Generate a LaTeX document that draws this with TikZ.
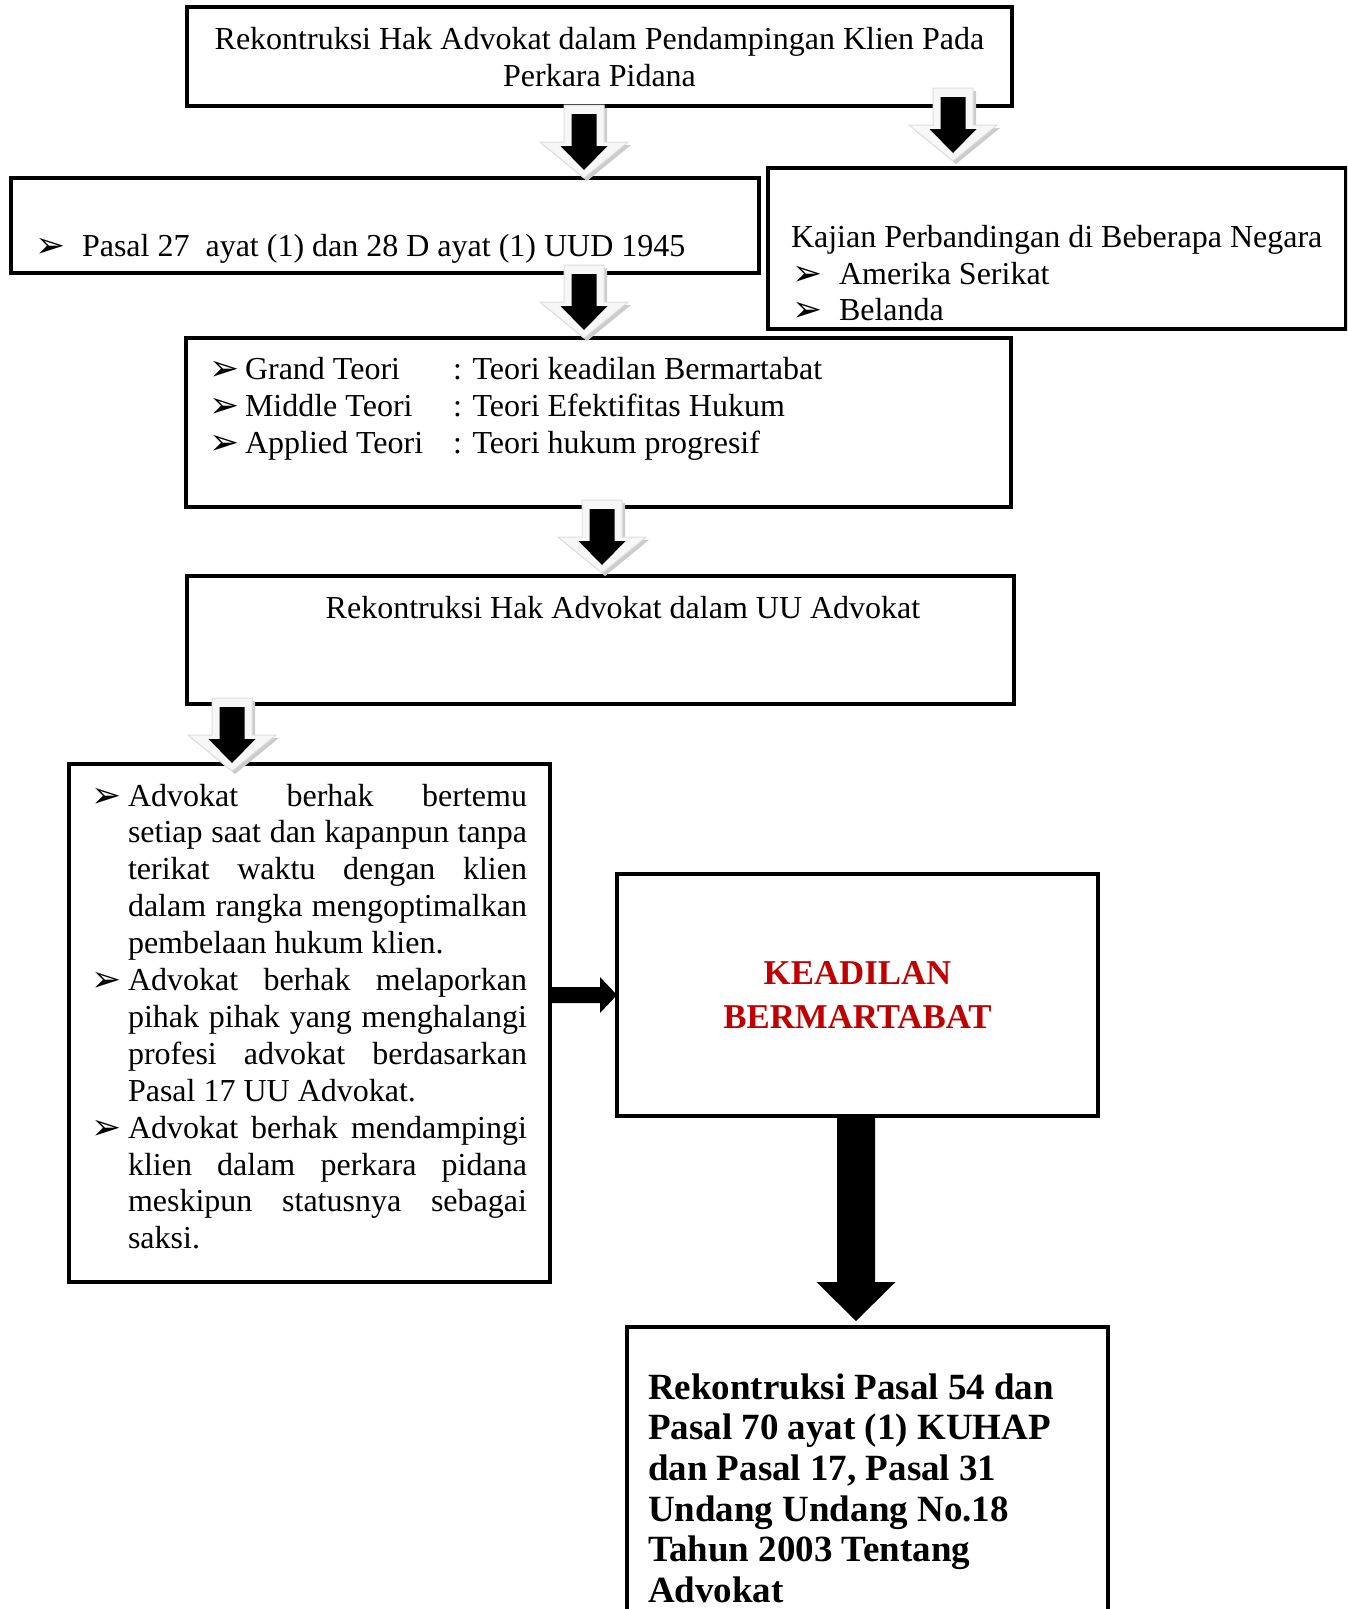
\documentclass[tikz,border=0pt]{standalone}
\usepackage{fontspec}
\setmainfont{Liberation Serif}
\newfontfamily\dv{DejaVu Sans}
\usetikzlibrary{calc}
\definecolor{kred}{HTML}{C00000}
\newcommand\ft{\fontsize{32pt}{37pt}\selectfont}
\newcommand\bul{\raisebox{-1pt}{\dv\fontsize{36pt}{36pt}\selectfont ➢}}
\begin{document}
\begin{tikzpicture}[x=1pt,y=-1pt,
  box/.style={draw, line width=3.5pt, inner sep=0pt, outer sep=0pt, rectangle},
  txt/.style={inner sep=0pt, outer sep=0pt, font=\ft},
  btxt/.style={inner sep=0pt, outer sep=0pt, font=\fontsize{37pt}{40pt}\selectfont\bfseries},
  rtxt/.style={inner sep=0pt, outer sep=0pt, text=kred, font=\fontsize{34.8pt}{40pt}\selectfont\bfseries},
  pics/darrow/.style={code={
    \fill[gray!40] (-17,-6) -- (23,-6) -- (23,31) -- (47,31) -- (3,67) -- (-41,31) -- (-17,31) -- cycle;
    \filldraw[fill=gray!6, draw=gray!25, line width=1pt] (-20,-9) -- (20,-9) -- (20,28) -- (44,28) -- (0,64) -- (-44,28) -- (-20,28) -- cycle;
    \fill[black] (-12.5,0) -- (12.5,0) -- (12.5,32) -- (23.5,32) -- (0,56) -- (-23.5,32) -- (-12.5,32) -- cycle;
  }}]
\useasboundingbox (0,0) rectangle (1347,1609);
\clip (0,0) rectangle (1347,1609);
\fill[white] (0,0) rectangle (1347,1609);

% boxes
\node[box, minimum width=825, minimum height=99]  (b1) at (599.5,56.5) {};
\node[box, minimum width=748, minimum height=95]  (b2) at (385,225.5) {};
\node[box, minimum width=578, minimum height=161] (b3) at (1057,248.5) {};
\node[box, minimum width=825, minimum height=169] (b4) at (598.5,422.5) {};
\node[box, minimum width=827, minimum height=128] (b5) at (600.5,640) {};
\node[box, minimum width=481, minimum height=518] (b6) at (309.5,1023) {};
\node[box, minimum width=481, minimum height=242] (b7) at (857.5,995) {};
\node[box, minimum width=481, minimum height=313] (b8) at (867.5,1483.5) {};

% box 1
\node[txt, anchor=base] (t1a) at (599.5,49) {Rekontruksi Hak Advokat dalam Pendampingan Klien Pada};
\node[txt, anchor=base] (t1b) at (599.5,86) {Perkara Pidana};

% box 2
\node[txt, anchor=base west] (t2b) at (35,256) {\bul};
\node[txt, anchor=base west] (t2) at (82,256) {Pasal 27\hspace{8pt} ayat (1) dan 28 D ayat (1) UUD 1945};

% box 3
\node[txt, anchor=base west] (t3) at (791,247) {Kajian Perbandingan di Beberapa Negara};
\node[txt, anchor=base west] (t3ab) at (792,284) {\bul};
\node[txt, anchor=base west] (t3a) at (839,284) {Amerika Serikat};
\node[txt, anchor=base west] (t3bb) at (792,320) {\bul};
\node[txt, anchor=base west] (t3b) at (839,320) {Belanda};

% box 4
\node[txt, anchor=base west] (t4ab) at (209,379) {\bul};
\node[txt, anchor=base west] (t4a) at (245,379) {Grand Teori};
\node[txt, anchor=base west] (t4ac) at (453,379) {: Teori keadilan Bermartabat};
\node[txt, anchor=base west] (t4bb) at (209,416) {\bul};
\node[txt, anchor=base west] (t4b) at (245,416) {Middle Teori};
\node[txt, anchor=base west] (t4bc) at (453,416) {: Teori Efektifitas Hukum};
\node[txt, anchor=base west] (t4cb) at (209,453) {\bul};
\node[txt, anchor=base west] (t4c) at (245,453) {Applied Teori};
\node[txt, anchor=base west] (t4cc) at (453,453) {: Teori hukum progresif};

% box 5
\node[txt, anchor=base] (t5) at (623,618) {Rekontruksi Hak Advokat dalam UU Advokat};

% box 6
\node[txt, anchor=base west] (q1) at (91,806) {\bul};
\node[txt, anchor=base west] (q2) at (91,990.5) {\bul};
\node[txt, anchor=base west] (q3) at (91,1138.1) {\bul};
\node[txt, anchor=base west] (p1) at (128,806) {\makebox[399pt][s]{Advokat berhak bertemu}};
\node[txt, anchor=base west] (p2) at (128,842.9) {\makebox[399pt][s]{setiap saat dan kapanpun tanpa}};
\node[txt, anchor=base west] (p3) at (128,879.8) {\makebox[399pt][s]{terikat waktu dengan klien}};
\node[txt, anchor=base west] (p4) at (128,916.7) {\makebox[399pt][s]{dalam rangka mengoptimalkan}};
\node[txt, anchor=base west] (p5) at (128,953.6) {pembelaan hukum klien.};
\node[txt, anchor=base west] (p6) at (128,990.5) {\makebox[399pt][s]{Advokat berhak melaporkan}};
\node[txt, anchor=base west] (p7) at (128,1027.4) {\makebox[399pt][s]{pihak pihak yang menghalangi}};
\node[txt, anchor=base west] (p8) at (128,1064.3) {\makebox[399pt][s]{profesi advokat berdasarkan}};
\node[txt, anchor=base west] (p9) at (128,1101.2) {Pasal 17 UU Advokat.};
\node[txt, anchor=base west] (p10) at (128,1138.1) {\makebox[399pt][s]{Advokat berhak mendampingi}};
\node[txt, anchor=base west] (p11) at (128,1175) {\makebox[399pt][s]{klien dalam perkara pidana}};
\node[txt, anchor=base west] (p12) at (128,1211.9) {\makebox[399pt][s]{meskipun statusnya sebagai}};
\node[txt, anchor=base west] (p13) at (128,1248.8) {saksi.};

% box 7
\node[rtxt, anchor=base] (k1) at (857.5,984) {KEADILAN};
\node[rtxt, anchor=base] (k2) at (857.5,1028) {BERMARTABAT};

% box 8
\node[btxt, anchor=base west] (r1) at (648,1399) {Rekontruksi Pasal 54 dan};
\node[btxt, anchor=base west] (r2) at (648,1439.7) {Pasal 70 ayat (1) KUHAP};
\node[btxt, anchor=base west] (r3) at (648,1480.4) {dan Pasal 17, Pasal 31};
\node[btxt, anchor=base west] (r4) at (648,1521.1) {Undang Undang No.18};
\node[btxt, anchor=base west] (r5) at (648,1561.8) {Tahun 2003 Tentang};
\node[btxt, anchor=base west] (r6) at (648,1602.5) {Advokat};

% block arrows
\pic (a1) at ($(b1.south)+(-15.5,8)$) {darrow};
\pic (a2) at ($(b1.south east)+(-59,-9)$) {darrow};
\pic (a3) at ($(b4.north)+(-14.5,-64)$) {darrow};
\pic (a4) at ($(b4.south)+(3.5,2)$) {darrow};
\pic (a5) at ($(b5.south west)+(45,3)$) {darrow};

\coordinate (a6s) at (b6.east |- b7.west);
\fill[black] (a6s) ++(0,-8) -- ++(50,0) -- ++(0,-10) -- ++(17,18) -- ++(-17,18) -- ++(0,-10) -- ++(-50,0) -- cycle;

\fill[black] (b7.south) ++(-20.5,0) -- ++(38,0) -- ++(0,166) -- ++(20.5,0) -- ++(-39.5,39) -- ++(-39.5,-39) -- ++(20.5,0) -- cycle;
\end{tikzpicture}
\end{document}
